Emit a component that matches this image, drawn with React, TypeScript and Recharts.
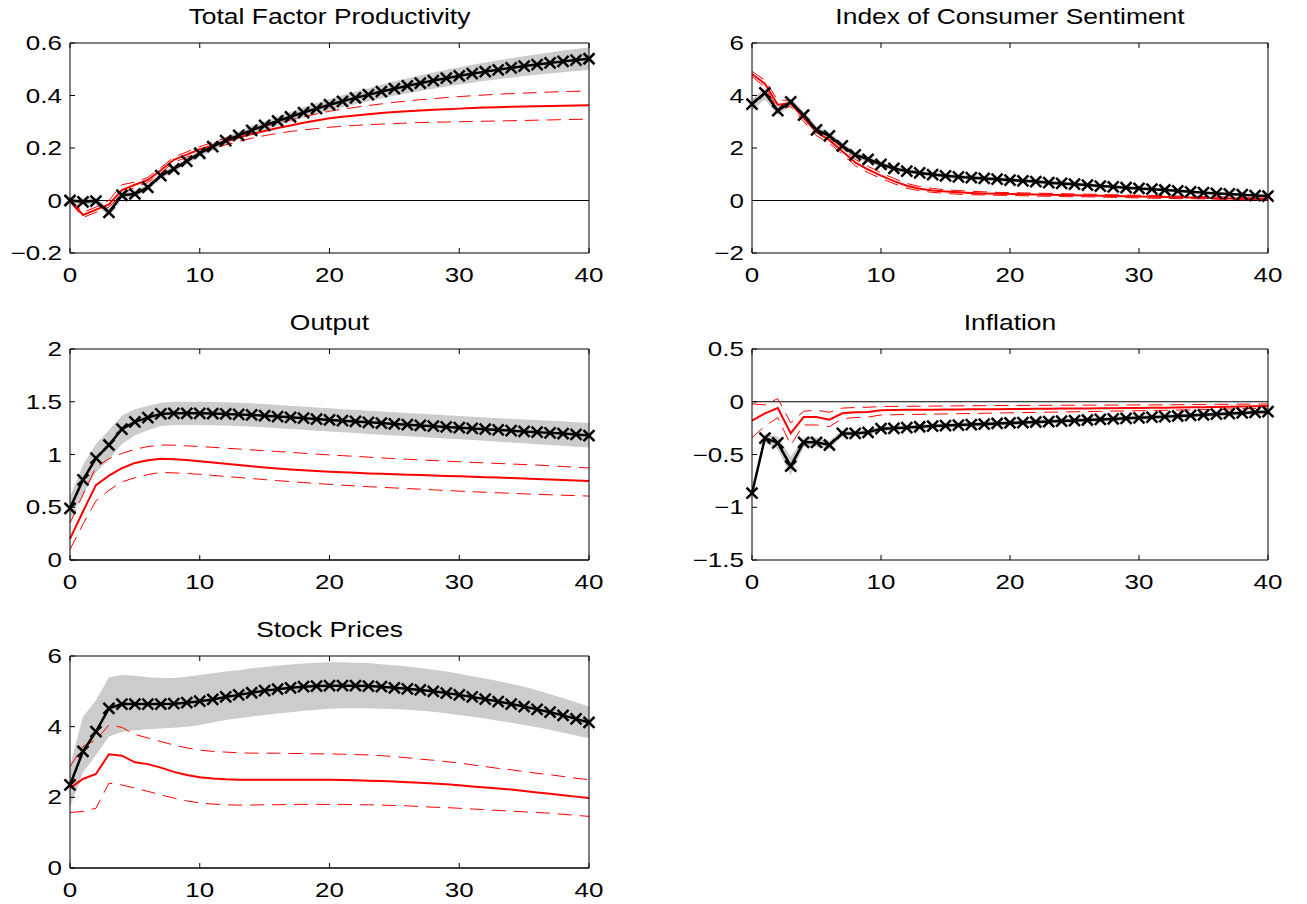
import React from 'react';
import { ComposedChart, Area, Line, XAxis, YAxis, ReferenceLine } from 'recharts';

// horizon (quarters)
const horizon = [
  0, 1, 2, 3, 4, 5, 6, 7, 8, 9, 10, 11, 12, 13, 14, 15, 16, 17, 18, 19, 20,
  21, 22, 23, 24, 25, 26, 27, 28, 29, 30, 31, 32, 33, 34, 35, 36, 37, 38, 39, 40,
];
const xTicks = [0, 10, 20, 30, 40];

// Total Factor Productivity
const tfpIrf = [0, -0.005, -0.002, -0.045, 0.02, 0.025, 0.05, 0.095, 0.12, 0.15, 0.18, 0.205, 0.228, 0.248, 0.267, 0.286, 0.303, 0.319, 0.335, 0.35, 0.365, 0.378, 0.391, 0.403, 0.415, 0.426, 0.437, 0.447, 0.457, 0.466, 0.475, 0.483, 0.491, 0.498, 0.505, 0.512, 0.518, 0.524, 0.53, 0.535, 0.54];
const tfpBandLo = [-0.005, -0.018, -0.015, -0.06, 0.007, 0.013, 0.037, 0.083, 0.108, 0.138, 0.167, 0.19, 0.213, 0.232, 0.25, 0.269, 0.285, 0.3, 0.315, 0.329, 0.343, 0.355, 0.367, 0.378, 0.389, 0.399, 0.408, 0.417, 0.426, 0.434, 0.442, 0.449, 0.456, 0.462, 0.468, 0.474, 0.479, 0.484, 0.489, 0.493, 0.497];
const tfpBandHi = [0.005, 0.008, 0.011, -0.03, 0.033, 0.037, 0.063, 0.107, 0.132, 0.162, 0.193, 0.22, 0.243, 0.264, 0.284, 0.303, 0.321, 0.338, 0.355, 0.371, 0.387, 0.401, 0.415, 0.428, 0.441, 0.453, 0.466, 0.477, 0.488, 0.498, 0.508, 0.517, 0.526, 0.534, 0.542, 0.55, 0.557, 0.564, 0.571, 0.577, 0.583];
const tfpAlt = [0, -0.055, -0.035, -0.015, 0.04, 0.06, 0.078, 0.115, 0.155, 0.175, 0.195, 0.21, 0.225, 0.24, 0.253, 0.265, 0.276, 0.286, 0.296, 0.305, 0.313, 0.319, 0.324, 0.329, 0.333, 0.337, 0.34, 0.343, 0.346, 0.348, 0.35, 0.352, 0.354, 0.355, 0.357, 0.358, 0.359, 0.36, 0.361, 0.362, 0.363];
const tfpAltHi = [0.005, -0.045, -0.025, 0, 0.06, 0.07, 0.088, 0.125, 0.165, 0.185, 0.205, 0.222, 0.238, 0.254, 0.268, 0.282, 0.295, 0.307, 0.319, 0.33, 0.34, 0.348, 0.355, 0.362, 0.368, 0.374, 0.379, 0.384, 0.388, 0.392, 0.396, 0.399, 0.402, 0.405, 0.407, 0.409, 0.411, 0.413, 0.415, 0.416, 0.418];
const tfpAltLo = [-0.005, -0.065, -0.045, -0.025, 0.025, 0.05, 0.068, 0.105, 0.145, 0.165, 0.185, 0.198, 0.212, 0.225, 0.237, 0.247, 0.256, 0.263, 0.269, 0.274, 0.279, 0.283, 0.286, 0.289, 0.291, 0.293, 0.295, 0.297, 0.298, 0.299, 0.3, 0.301, 0.302, 0.303, 0.304, 0.305, 0.306, 0.307, 0.308, 0.309, 0.31];

// Index of Consumer Sentiment
const icsIrf = [3.67, 4.1, 3.42, 3.76, 3.25, 2.69, 2.46, 2.08, 1.74, 1.57, 1.38, 1.22, 1.12, 1.05, 0.99, 0.94, 0.9, 0.87, 0.84, 0.81, 0.78, 0.75, 0.72, 0.68, 0.65, 0.62, 0.59, 0.55, 0.52, 0.49, 0.46, 0.43, 0.4, 0.37, 0.33, 0.3, 0.27, 0.25, 0.22, 0.19, 0.17];
const icsBandLo = [3.45, 3.85, 3.25, 3.6, 3.1, 2.55, 2.32, 1.95, 1.62, 1.46, 1.28, 1.13, 1.04, 0.97, 0.91, 0.86, 0.82, 0.79, 0.76, 0.73, 0.7, 0.68, 0.65, 0.61, 0.58, 0.55, 0.52, 0.49, 0.46, 0.43, 0.4, 0.37, 0.34, 0.31, 0.28, 0.25, 0.22, 0.2, 0.17, 0.15, 0.13];
const icsBandHi = [3.85, 4.3, 3.6, 3.9, 3.4, 2.83, 2.6, 2.2, 1.86, 1.68, 1.48, 1.31, 1.2, 1.13, 1.07, 1.02, 0.98, 0.95, 0.92, 0.89, 0.86, 0.82, 0.79, 0.75, 0.72, 0.69, 0.66, 0.61, 0.58, 0.55, 0.52, 0.49, 0.46, 0.43, 0.38, 0.35, 0.32, 0.3, 0.27, 0.23, 0.21];
const icsAlt = [4.82, 4.45, 3.65, 3.7, 3.15, 2.6, 2.3, 1.88, 1.45, 1.18, 0.95, 0.74, 0.56, 0.45, 0.38, 0.34, 0.31, 0.29, 0.27, 0.26, 0.25, 0.24, 0.23, 0.22, 0.21, 0.2, 0.19, 0.18, 0.17, 0.16, 0.15, 0.14, 0.13, 0.12, 0.11, 0.1, 0.09, 0.08, 0.07, 0.06, 0.05];
const icsAltHi = [4.92, 4.58, 3.82, 3.82, 3.28, 2.72, 2.42, 2.0, 1.57, 1.3, 1.06, 0.84, 0.65, 0.53, 0.46, 0.41, 0.38, 0.35, 0.33, 0.31, 0.3, 0.29, 0.28, 0.27, 0.26, 0.25, 0.24, 0.23, 0.22, 0.21, 0.2, 0.19, 0.18, 0.17, 0.16, 0.15, 0.14, 0.13, 0.11, 0.1, 0.09];
const icsAltLo = [4.72, 4.33, 3.5, 3.58, 3.02, 2.47, 2.18, 1.76, 1.33, 1.06, 0.84, 0.64, 0.47, 0.37, 0.31, 0.27, 0.24, 0.22, 0.21, 0.2, 0.19, 0.18, 0.17, 0.16, 0.15, 0.14, 0.14, 0.13, 0.12, 0.11, 0.1, 0.09, 0.08, 0.07, 0.07, 0.06, 0.05, 0.04, 0.03, 0.02, 0.02];

// Output
const outIrf = [0.49, 0.76, 0.965, 1.09, 1.24, 1.31, 1.35, 1.385, 1.39, 1.39, 1.39, 1.388, 1.385, 1.38, 1.375, 1.368, 1.36, 1.352, 1.344, 1.336, 1.328, 1.32, 1.313, 1.305, 1.298, 1.29, 1.283, 1.276, 1.268, 1.261, 1.254, 1.247, 1.24, 1.233, 1.226, 1.219, 1.212, 1.205, 1.198, 1.19, 1.18];
const outBandLo = [0.38, 0.62, 0.83, 0.95, 1.1, 1.18, 1.23, 1.27, 1.28, 1.28, 1.28, 1.278, 1.275, 1.27, 1.265, 1.258, 1.25, 1.242, 1.234, 1.226, 1.218, 1.21, 1.203, 1.195, 1.188, 1.18, 1.173, 1.166, 1.158, 1.151, 1.144, 1.137, 1.13, 1.122, 1.114, 1.106, 1.098, 1.09, 1.082, 1.074, 1.066];
const outBandHi = [0.6, 0.9, 1.1, 1.23, 1.37, 1.43, 1.46, 1.49, 1.5, 1.5, 1.5, 1.498, 1.495, 1.49, 1.485, 1.478, 1.47, 1.462, 1.454, 1.446, 1.438, 1.43, 1.423, 1.415, 1.408, 1.4, 1.393, 1.386, 1.378, 1.371, 1.364, 1.357, 1.35, 1.344, 1.338, 1.332, 1.326, 1.32, 1.314, 1.306, 1.298];
const outAlt = [0.2, 0.46, 0.71, 0.8, 0.87, 0.92, 0.945, 0.96, 0.955, 0.947, 0.937, 0.925, 0.912, 0.9, 0.888, 0.877, 0.867, 0.858, 0.85, 0.843, 0.837, 0.831, 0.826, 0.821, 0.817, 0.813, 0.809, 0.805, 0.801, 0.797, 0.793, 0.789, 0.785, 0.781, 0.777, 0.773, 0.768, 0.763, 0.758, 0.753, 0.748];
const outAltHi = [0.35, 0.62, 0.88, 0.96, 1.01, 1.05, 1.075, 1.09, 1.088, 1.082, 1.076, 1.068, 1.06, 1.052, 1.044, 1.036, 1.028, 1.02, 1.012, 1.004, 0.996, 0.989, 0.982, 0.975, 0.968, 0.961, 0.955, 0.949, 0.943, 0.937, 0.931, 0.925, 0.92, 0.915, 0.91, 0.905, 0.9, 0.893, 0.886, 0.879, 0.872];
const outAltLo = [0.1, 0.34, 0.56, 0.66, 0.74, 0.78, 0.81, 0.83, 0.826, 0.82, 0.812, 0.802, 0.792, 0.782, 0.772, 0.762, 0.752, 0.743, 0.734, 0.725, 0.717, 0.709, 0.702, 0.695, 0.689, 0.683, 0.677, 0.671, 0.665, 0.659, 0.653, 0.647, 0.642, 0.637, 0.632, 0.627, 0.622, 0.618, 0.614, 0.61, 0.606];

// Inflation
const infIrf = [-0.867, -0.345, -0.39, -0.61, -0.385, -0.385, -0.41, -0.3, -0.3, -0.29, -0.255, -0.252, -0.245, -0.237, -0.231, -0.226, -0.221, -0.216, -0.211, -0.206, -0.201, -0.197, -0.192, -0.188, -0.183, -0.178, -0.173, -0.168, -0.163, -0.157, -0.152, -0.146, -0.141, -0.135, -0.13, -0.124, -0.118, -0.112, -0.106, -0.1, -0.094];
const infBandLo = [-0.88, -0.39, -0.45, -0.7, -0.43, -0.43, -0.45, -0.33, -0.325, -0.315, -0.278, -0.274, -0.266, -0.258, -0.252, -0.247, -0.242, -0.237, -0.232, -0.227, -0.222, -0.218, -0.213, -0.209, -0.204, -0.199, -0.194, -0.189, -0.184, -0.178, -0.173, -0.167, -0.162, -0.156, -0.151, -0.145, -0.139, -0.133, -0.127, -0.121, -0.115];
const infBandHi = [-0.855, -0.3, -0.33, -0.52, -0.34, -0.34, -0.37, -0.27, -0.275, -0.265, -0.232, -0.23, -0.224, -0.216, -0.21, -0.205, -0.2, -0.195, -0.19, -0.185, -0.18, -0.176, -0.171, -0.167, -0.162, -0.157, -0.152, -0.147, -0.142, -0.136, -0.131, -0.125, -0.12, -0.114, -0.109, -0.103, -0.097, -0.091, -0.085, -0.079, -0.073];
const infAlt = [-0.18, -0.11, -0.06, -0.3, -0.145, -0.145, -0.17, -0.11, -0.1, -0.098, -0.08, -0.078, -0.077, -0.076, -0.075, -0.074, -0.073, -0.072, -0.071, -0.07, -0.069, -0.068, -0.067, -0.066, -0.065, -0.064, -0.063, -0.062, -0.061, -0.06, -0.059, -0.058, -0.057, -0.055, -0.053, -0.051, -0.049, -0.047, -0.045, -0.042, -0.04];
const infAltHi = [-0.02, -0.03, 0.03, -0.2, -0.09, -0.08, -0.1, -0.06, -0.055, -0.052, -0.045, -0.044, -0.043, -0.042, -0.041, -0.04, -0.039, -0.038, -0.037, -0.036, -0.035, -0.035, -0.034, -0.034, -0.033, -0.033, -0.032, -0.032, -0.031, -0.031, -0.03, -0.03, -0.029, -0.028, -0.027, -0.026, -0.025, -0.024, -0.023, -0.022, -0.021];
const infAltLo = [-0.34, -0.23, -0.15, -0.41, -0.22, -0.22, -0.235, -0.16, -0.15, -0.145, -0.125, -0.123, -0.121, -0.119, -0.117, -0.115, -0.113, -0.111, -0.109, -0.107, -0.105, -0.103, -0.101, -0.099, -0.097, -0.095, -0.093, -0.091, -0.089, -0.087, -0.085, -0.083, -0.081, -0.079, -0.077, -0.075, -0.072, -0.069, -0.066, -0.063, -0.06];

// Stock Prices
const stkIrf = [2.35, 3.3, 3.86, 4.52, 4.64, 4.64, 4.64, 4.64, 4.65, 4.68, 4.72, 4.77, 4.84, 4.9, 4.96, 5.02, 5.06, 5.1, 5.13, 5.15, 5.16, 5.16, 5.16, 5.15, 5.13, 5.1, 5.07, 5.04, 5.0, 4.95, 4.9, 4.84, 4.78, 4.71, 4.64, 4.57, 4.49, 4.41, 4.32, 4.22, 4.12];
const stkBandLo = [1.72, 2.7, 3.2, 3.72, 3.85, 3.9, 3.93, 3.95, 3.97, 4.0, 4.05, 4.12, 4.19, 4.24, 4.29, 4.33, 4.37, 4.41, 4.45, 4.48, 4.51, 4.52, 4.52, 4.52, 4.51, 4.5, 4.48, 4.45, 4.42, 4.38, 4.33, 4.28, 4.23, 4.17, 4.11, 4.05, 3.98, 3.91, 3.83, 3.75, 3.67];
const stkBandHi = [2.9, 4.28, 4.75, 5.4, 5.46, 5.44, 5.4, 5.38, 5.38, 5.41, 5.46, 5.51, 5.56, 5.6, 5.65, 5.69, 5.73, 5.76, 5.79, 5.81, 5.82, 5.82, 5.81, 5.8, 5.77, 5.74, 5.7, 5.66, 5.61, 5.56, 5.5, 5.43, 5.36, 5.29, 5.21, 5.13, 5.03, 4.92, 4.81, 4.69, 4.57];
const stkAlt = [2.26, 2.52, 2.66, 3.22, 3.18, 2.99, 2.94, 2.84, 2.72, 2.63, 2.57, 2.53, 2.51, 2.5, 2.5, 2.5, 2.5, 2.5, 2.5, 2.5, 2.5, 2.49, 2.48, 2.47, 2.46, 2.45, 2.43, 2.41, 2.39, 2.37, 2.34, 2.31, 2.28, 2.25, 2.22, 2.18, 2.14, 2.1, 2.06, 2.02, 1.98];
const stkAltHi = [2.87, 3.44, 3.62, 4.05, 3.98, 3.78, 3.68, 3.58, 3.48, 3.4, 3.34, 3.3, 3.28, 3.26, 3.25, 3.25, 3.25, 3.24, 3.24, 3.23, 3.23, 3.22, 3.21, 3.2, 3.18, 3.15, 3.12, 3.08, 3.05, 3.01, 2.97, 2.92, 2.87, 2.82, 2.78, 2.73, 2.68, 2.64, 2.59, 2.54, 2.5];
const stkAltLo = [1.57, 1.6, 1.69, 2.4, 2.35, 2.26, 2.17, 2.07, 1.98, 1.9, 1.84, 1.81, 1.79, 1.78, 1.78, 1.79, 1.79, 1.8, 1.8, 1.8, 1.8, 1.8, 1.79, 1.79, 1.78, 1.77, 1.76, 1.74, 1.72, 1.71, 1.69, 1.67, 1.65, 1.63, 1.61, 1.59, 1.57, 1.55, 1.52, 1.49, 1.46];

const FONT = '"Liberation Sans", Arial, Helvetica, sans-serif';
const fmt = (v: number) => String(v).replace('-', '\u2212');

// MATLAB-style: ticks point inward, labels stretched a bit wider
const BottomTick = (p: any) => (
  <g>
    <line x1={p.x} y1={p.y} x2={p.x} y2={p.y - 5} stroke="#000" strokeWidth={1} />
    <text transform={`translate(${p.x},${p.y + 29}) scale(1.3,1)`} textAnchor="middle" fontSize={20} fontFamily={FONT} fill="#000">
      {fmt(p.payload.value)}
    </text>
  </g>
);
const TopTick = (p: any) => <line x1={p.x} y1={p.y} x2={p.x} y2={p.y + 5} stroke="#000" strokeWidth={1} />;
const LeftTick = (p: any) => (
  <g>
    <line x1={p.x} y1={p.y} x2={p.x + 5} y2={p.y} stroke="#000" strokeWidth={1} />
    <text transform={`translate(${p.x - 8},${p.y + 7}) scale(1.3,1)`} textAnchor="end" fontSize={20} fontFamily={FONT} fill="#000">
      {fmt(p.payload.value)}
    </text>
  </g>
);
const RightTick = (p: any) => <line x1={p.x} y1={p.y} x2={p.x - 5} y2={p.y} stroke="#000" strokeWidth={1} />;

const XMark = (p: any) => {
  const { cx, cy, index } = p;
  if (cx == null || cy == null) return <g key={`m-${index}`} />;
  const s = 5.5;
  return (
    <path
      key={`m-${index}`}
      d={`M${cx - s},${cy - s}L${cx + s},${cy + s}M${cx - s},${cy + s}L${cx + s},${cy - s}`}
      stroke="#000"
      strokeWidth={2.5}
      fill="none"
    />
  );
};

interface PanelProps {
  title: string;
  left: number;
  top: number;
  w: number;
  h: number;
  yDomain: [number, number];
  yTicks: number[];
  irf: number[];
  bandLo: number[];
  bandHi: number[];
  alt: number[];
  altHi: number[];
  altLo: number[];
}

function Panel({ title, left, top, w, h, yDomain, yTicks, irf, bandLo, bandHi, alt, altHi, altLo }: PanelProps) {
  const data = horizon.map((t, i) => ({
    t,
    band: [bandLo[i], bandHi[i]],
    irf: irf[i],
    alt: alt[i],
    altHi: altHi[i],
    altLo: altLo[i],
  }));
  return (
    <>
      <div
        style={{
          position: 'absolute',
          left,
          top: top - 39,
          width: w,
          textAlign: 'center',
          fontFamily: FONT,
          fontSize: 22,
          lineHeight: '26px',
          color: '#000',
          transform: 'scaleX(1.2)',
          whiteSpace: 'nowrap',
        }}
      >
        {title}
      </div>
      <div style={{ position: 'absolute', left: left - 70, top: top - 10 }}>
        <ComposedChart width={w + 110} height={h + 50} data={data} margin={{ top: 9, right: 39, left: 0, bottom: 0 }}>
          <XAxis
            dataKey="t"
            type="number"
            domain={[0, 40]}
            ticks={xTicks}
            interval={0}
            height={40}
            tickSize={0}
            tickMargin={0}
            tickLine={false}
            axisLine={{ stroke: '#000', strokeWidth: 1 }}
            tick={BottomTick}
          />
          <XAxis
            xAxisId="top"
            orientation="top"
            dataKey="t"
            type="number"
            domain={[0, 40]}
            ticks={xTicks}
            interval={0}
            height={1}
            tickSize={0}
            tickMargin={0}
            tickLine={false}
            axisLine={{ stroke: '#000', strokeWidth: 1 }}
            tick={TopTick}
          />
          <YAxis
            type="number"
            domain={yDomain}
            ticks={yTicks}
            interval={0}
            width={70}
            tickSize={0}
            tickMargin={0}
            tickLine={false}
            axisLine={{ stroke: '#000', strokeWidth: 1 }}
            tick={LeftTick}
          />
          <YAxis
            yAxisId="r"
            orientation="right"
            type="number"
            domain={yDomain}
            ticks={yTicks}
            interval={0}
            width={1}
            tickSize={0}
            tickMargin={0}
            tickLine={false}
            axisLine={{ stroke: '#000', strokeWidth: 1 }}
            tick={RightTick}
          />
          <Area
            type="linear"
            dataKey="band"
            stroke="none"
            fill="#cccccc"
            fillOpacity={1}
            isAnimationActive={false}
          />
          <ReferenceLine y={0} stroke="#000" strokeWidth={1} />
          <Line type="linear" dataKey="altHi" stroke="#ff0000" strokeWidth={1} strokeDasharray="14 8" dot={false} isAnimationActive={false} />
          <Line type="linear" dataKey="altLo" stroke="#ff0000" strokeWidth={1} strokeDasharray="14 8" dot={false} isAnimationActive={false} />
          <Line type="linear" dataKey="alt" stroke="#ff0000" strokeWidth={2} dot={false} isAnimationActive={false} />
          <Line type="linear" dataKey="irf" stroke="#000" strokeWidth={2.5} dot={XMark} isAnimationActive={false} />
        </ComposedChart>
      </div>
    </>
  );
}

export default function App() {
  return (
    <div style={{ position: 'absolute', left: 0, top: 0, width: 1307, height: 904, background: '#fff' }}>
      <Panel title="Total Factor Productivity" left={70} top={43} w={519} h={210}
        yDomain={[-0.2, 0.6]} yTicks={[-0.2, 0, 0.2, 0.4, 0.6]}
        irf={tfpIrf} bandLo={tfpBandLo} bandHi={tfpBandHi} alt={tfpAlt} altHi={tfpAltHi} altLo={tfpAltLo} />
      <Panel title="Index of Consumer Sentiment" left={752} top={43} w={516} h={210}
        yDomain={[-2, 6]} yTicks={[-2, 0, 2, 4, 6]}
        irf={icsIrf} bandLo={icsBandLo} bandHi={icsBandHi} alt={icsAlt} altHi={icsAltHi} altLo={icsAltLo} />
      <Panel title="Output" left={70} top={349} w={519} h={211}
        yDomain={[0, 2]} yTicks={[0, 0.5, 1, 1.5, 2]}
        irf={outIrf} bandLo={outBandLo} bandHi={outBandHi} alt={outAlt} altHi={outAltHi} altLo={outAltLo} />
      <Panel title="Inflation" left={752} top={349} w={516} h={211}
        yDomain={[-1.5, 0.5]} yTicks={[-1.5, -1, -0.5, 0, 0.5]}
        irf={infIrf} bandLo={infBandLo} bandHi={infBandHi} alt={infAlt} altHi={infAltHi} altLo={infAltLo} />
      <Panel title="Stock Prices" left={70} top={656} w={519} h={212}
        yDomain={[0, 6]} yTicks={[0, 2, 4, 6]}
        irf={stkIrf} bandLo={stkBandLo} bandHi={stkBandHi} alt={stkAlt} altHi={stkAltHi} altLo={stkAltLo} />
    </div>
  );
}
